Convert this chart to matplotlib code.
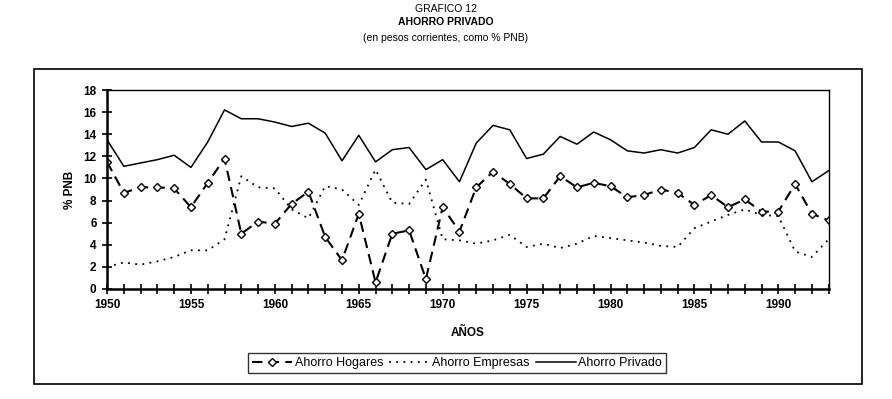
import matplotlib.pyplot as plt
from matplotlib.patches import Rectangle

plt.rcParams['font.family'] = ['Liberation Sans', 'DejaVu Sans']

# values (% PNB)
years = list(range(1950, 1994))
hogares = [11.5, 8.7, 9.2, 9.2, 9.1, 7.4, 9.6, 11.8, 5.0, 6.1,
           5.9, 7.7, 8.8, 4.7, 2.6, 6.8, 0.6, 5.0, 5.3, 0.9,
           7.4, 5.2, 9.2, 10.6, 9.5, 8.2, 8.2, 10.2, 9.2, 9.6,
           9.3, 8.3, 8.5, 9.0, 8.7, 7.6, 8.5, 7.4, 8.1, 7.0,
           7.0, 9.5, 6.8, 6.2]
empresas = [2.0, 2.4, 2.2, 2.5, 2.9, 3.5, 3.5, 4.5, 10.2, 9.2,
            9.1, 7.2, 6.4, 9.3, 9.0, 7.6, 10.8, 7.8, 7.7, 9.9,
            4.5, 4.4, 4.1, 4.4, 4.9, 3.8, 4.1, 3.7, 4.1, 4.8,
            4.6, 4.4, 4.2, 3.9, 3.8, 5.5, 6.1, 6.7, 7.2, 6.7,
            6.6, 3.4, 2.9, 4.5]
privado = [13.5, 11.1, 11.4, 11.7, 12.1, 11.0, 13.3, 16.2, 15.4, 15.4,
           15.1, 14.7, 15.0, 14.1, 11.6, 13.9, 11.5, 12.6, 12.8, 10.8,
           11.7, 9.7, 13.2, 14.8, 14.4, 11.8, 12.2, 13.8, 13.1, 14.2,
           13.5, 12.5, 12.3, 12.6, 12.3, 12.8, 14.4, 14.0, 15.2, 13.3,
           13.3, 12.5, 9.7, 10.7]

fig = plt.figure(figsize=(8.92, 3.99), dpi=100)
ax = fig.add_axes([0.120, 0.2757, 0.809, 0.4987])

ax.plot(years, hogares, color='black', linestyle=(0, (5, 3)), linewidth=1.5,
        marker='D', markersize=3.8, markerfacecolor='white', markeredgecolor='black',
        markeredgewidth=1.0, label='Ahorro Hogares')
ax.plot(years, empresas, color='black', linestyle=(0, (1, 3)), linewidth=1.3,
        label='Ahorro Empresas')
ax.plot(years, privado, color='black', linestyle='-', linewidth=1.1,
        label='Ahorro Privado')

ax.set_xlim(1950, 1993)
ax.set_ylim(0, 18)
ax.set_xticks(range(1950, 1994, 5))
ax.set_xticks(years, minor=True)
ax.set_yticks(range(0, 19, 2))
ax.tick_params(axis='both', which='both', direction='inout', width=1.2)
ax.tick_params(axis='both', which='major', length=7, labelsize=8.5, pad=4)
ax.tick_params(axis='x', which='minor', length=7)
for lab in ax.get_xticklabels() + ax.get_yticklabels():
    lab.set_fontweight('bold')
for side in ['left', 'bottom']:
    ax.spines[side].set_linewidth(1.8)
for side in ['top', 'right']:
    ax.spines[side].set_linewidth(1.0)

ax.set_xlabel('AÑOS', fontsize=8.5, fontweight='bold', labelpad=11)
ax.set_ylabel('% PNB', fontsize=8.5, fontweight='bold', labelpad=5)

leg = ax.legend(loc='center', bbox_to_anchor=(457 / 892, 1 - 363 / 399),
                bbox_transform=fig.transFigure, ncol=3, frameon=True, fancybox=False,
                fontsize=9, handlelength=3.2, handletextpad=0.2, columnspacing=0.5,
                borderpad=0.35)
leg.get_frame().set_edgecolor('black')
leg.get_frame().set_linewidth(1.0)

# outer frame around plot and legend
fig.patches.append(Rectangle((0.038, 0.0376), 0.928, 0.7894, transform=fig.transFigure,
                             fill=False, edgecolor='black', linewidth=1.2))

fig.text(0.5, 0.978, 'GRAFICO 12', ha='center', va='center', fontsize=7.5)
fig.text(0.5, 0.944, 'AHORRO PRIVADO', ha='center', va='center', fontsize=7.5,
         fontweight='bold')
fig.text(0.5, 0.905, '(en pesos corrientes, como % PNB)', ha='center', va='center',
         fontsize=7.5)

fig.savefig('out.png', dpi=100)
